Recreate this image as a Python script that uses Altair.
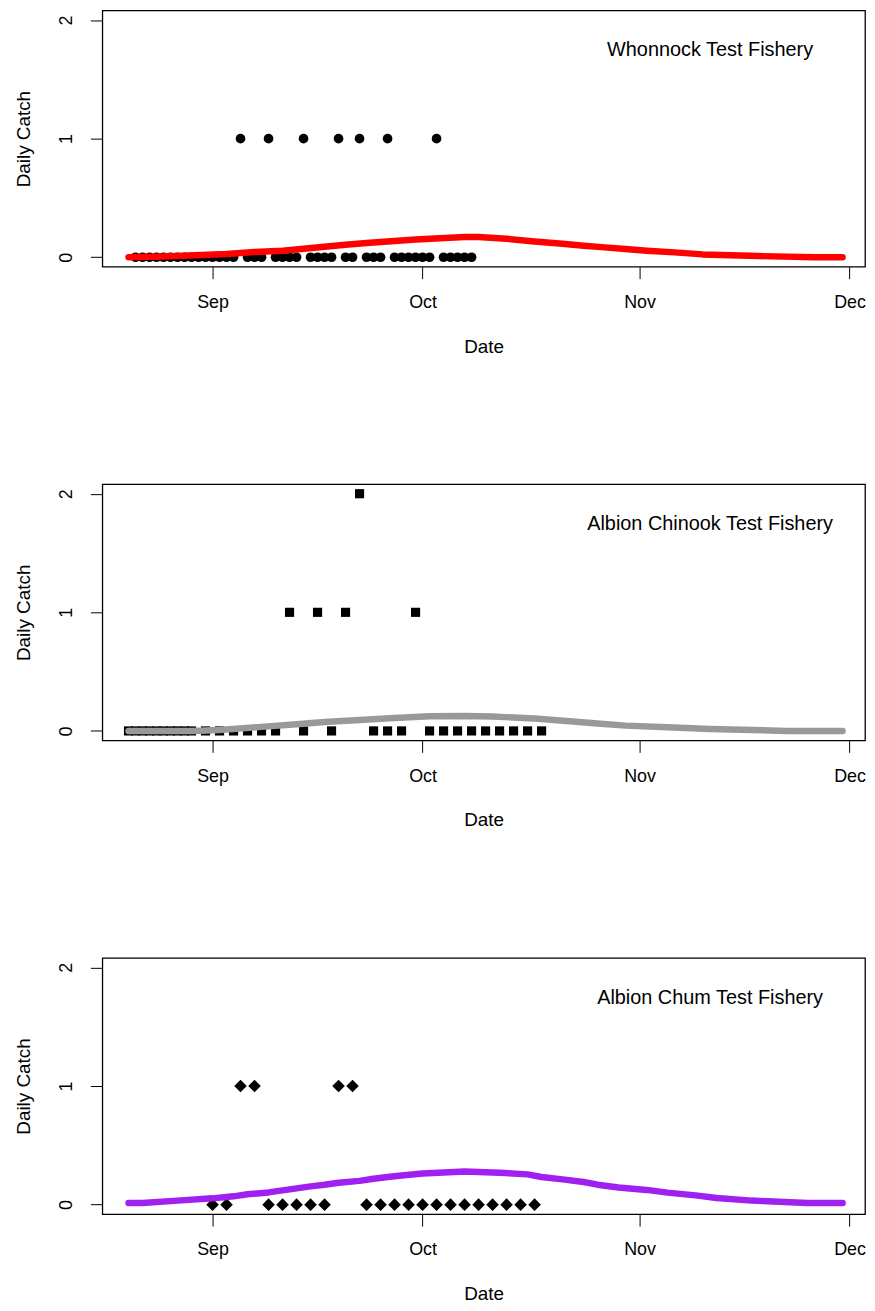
import altair as alt
import pandas as pd

YEAR = "2013"

# ---------------- Whonnock Test Fishery (daily) ----------------
wh_days = ["08-21", "08-22", "08-23", "08-24", "08-25", "08-26", "08-27", "08-28", "08-29", "08-30", "08-31",
           "09-01", "09-02", "09-03", "09-04", "09-05", "09-06", "09-07", "09-08", "09-09", "09-10",
           "09-11", "09-12", "09-13", "09-14", "09-15", "09-16", "09-17", "09-18", "09-19", "09-20",
           "09-21", "09-22", "09-23", "09-24", "09-25", "09-26", "09-27", "09-28", "09-29", "09-30",
           "10-01", "10-02", "10-03", "10-04", "10-05", "10-06", "10-07", "10-08"]
wh_catch = [0, 0, 0, 0, 0, 0, 0, 0, 0, 0, 0,
            0, 0, 0, 0, 1, 0, 0, 0, 1, 0,
            0, 0, 0, 1, 0, 0, 0, 0, 1, 0,
            0, 1, 0, 0, 0, 1, 0, 0, 0, 0,
            0, 0, 1, 0, 0, 0, 0, 0]
wh_curve_days = ["08-20", "08-25", "09-03", "09-07", "09-11", "09-14", "09-17", "09-20", "09-23", "09-26",
                 "09-30", "10-07", "10-09", "10-13", "10-17", "10-21", "10-24", "10-27", "10-30", "11-02",
                 "11-06", "11-10", "11-18", "11-26", "11-30"]
wh_curve_vals = [0.0, 0.007, 0.027, 0.044, 0.055, 0.072, 0.089, 0.105, 0.120, 0.133,
                 0.150, 0.170, 0.170, 0.156, 0.133, 0.114, 0.097, 0.083, 0.069, 0.055,
                 0.041, 0.024, 0.010, 0.0, 0.0]

# ---------------- Albion Chinook Test Fishery ----------------
ch_days = ["08-20", "08-21", "08-22", "08-23", "08-24", "08-25", "08-26", "08-27", "08-28", "08-29",
           "08-31", "09-02", "09-04", "09-06", "09-08", "09-10", "09-12", "09-14", "09-16", "09-18",
           "09-20", "09-22", "09-24", "09-26", "09-28", "09-30",
           "10-02", "10-04", "10-06", "10-08", "10-10", "10-12", "10-14", "10-16", "10-18"]
ch_catch = [0, 0, 0, 0, 0, 0, 0, 0, 0, 0,
            0, 0, 0, 0, 0, 0, 1, 0, 1, 0,
            1, 2, 0, 0, 0, 1,
            0, 0, 0, 0, 0, 0, 0, 0, 0]
ch_curve_days = ["08-20", "08-29", "09-02", "09-08", "09-13", "09-17", "09-22", "09-27", "10-02", "10-07",
                 "10-11", "10-17", "10-22", "10-26", "10-30", "11-05", "11-11", "11-22", "11-30"]
ch_curve_vals = [0.0, 0.0, 0.008, 0.034, 0.056, 0.076, 0.092, 0.109, 0.124, 0.126,
                 0.121, 0.105, 0.082, 0.062, 0.045, 0.031, 0.017, 0.0, 0.0]

# ---------------- Albion Chum Test Fishery ----------------
cm_days = ["09-01", "09-03", "09-05", "09-07", "09-09", "09-11", "09-13", "09-15", "09-17", "09-19",
           "09-21", "09-23", "09-25", "09-27", "09-29",
           "10-01", "10-03", "10-05", "10-07", "10-09", "10-11", "10-13", "10-15", "10-17"]
cm_catch = [0, 0, 1, 1, 0, 0, 0, 0, 0, 1,
            1, 0, 0, 0, 0,
            0, 0, 0, 0, 0, 0, 0, 0, 0]
cm_curve_days = ["08-20", "08-22", "08-27", "09-01", "09-04", "09-06", "09-09", "09-11", "09-13", "09-15",
                 "09-17", "09-19", "09-22", "09-24", "09-26", "09-28", "10-01", "10-07", "10-12", "10-16",
                 "10-18", "10-21", "10-24", "10-26", "10-29", "11-02", "11-05", "11-09", "11-12", "11-17",
                 "11-25", "11-30"]
cm_curve_vals = [0.014, 0.014, 0.034, 0.053, 0.070, 0.087, 0.103, 0.120, 0.137, 0.154,
                 0.168, 0.185, 0.200, 0.218, 0.233, 0.246, 0.263, 0.280, 0.269, 0.255,
                 0.233, 0.213, 0.191, 0.168, 0.145, 0.124, 0.101, 0.078, 0.056, 0.034,
                 0.014, 0.014]

month_ticks = [(9, 1), (10, 1), (11, 1), (12, 1)]
y_ticks = [0, 1, 2]

FONT = "Liberation Sans"


def to_df(days, vals):
    return pd.DataFrame({"date": [f"{YEAR}-{d}T00:00:00" for d in days], "value": vals})


x_enc = alt.X(
    "date:T",
    title="Date",
    scale=alt.Scale(domain=[alt.DateTime(year=2013, month=8, date=16, hours=6, minutes=14),
                            alt.DateTime(year=2013, month=12, date=3, hours=4, minutes=50)]),
    axis=alt.Axis(values=[alt.DateTime(year=2013, month=m, date=d) for m, d in month_ticks],
                  format="%b", labelAngle=0, tickSize=12, labelPadding=15,
                  labelBaseline="top", labelAlign="center",
                  minExtent=45, maxExtent=45, titlePadding=26, grid=False),
)
y_enc = alt.Y(
    "value:Q",
    title="Daily Catch",
    scale=alt.Scale(domain=[-0.08, 2.08], nice=False, zero=False),
    axis=alt.Axis(values=y_ticks, format="d", labelAngle=270, labelAlign="center",
                  labelBaseline="bottom", tickSize=12, labelPadding=15,
                  minExtent=42, maxExtent=42, titlePadding=27, grid=False),
)


def panel(days, catch, cdays, cvals, shape, size, color, label):
    pts = alt.Chart(to_df(days, catch)).mark_point(
        shape=shape, filled=True, size=size, color="black", opacity=1
    ).encode(x=x_enc, y=y_enc)
    line = alt.Chart(to_df(cdays, cvals)).mark_line(
        color=color, strokeWidth=6.5, strokeCap="round", strokeJoin="round"
    ).encode(x=x_enc, y=y_enc)
    txt = alt.Chart(pd.DataFrame({"t": [label]})).mark_text(
        font=FONT, fontSize=20, color="black", align="center", baseline="middle"
    ).encode(x=alt.value(612), y=alt.value(40), text="t:N")
    return alt.layer(pts, line, txt).properties(width=768, height=258)


p1 = panel(wh_days, wh_catch, wh_curve_days, wh_curve_vals, "circle", 95, "#FF0000", "Whonnock Test Fishery")
p2 = panel(ch_days, ch_catch, ch_curve_days, ch_curve_vals, "square", 85, "#999999", "Albion Chinook Test Fishery")
p3 = panel(cm_days, cm_catch, cm_curve_days, cm_curve_vals, "diamond", 160, "#A020F0", "Albion Chum Test Fishery")

chart = alt.vconcat(p1, p2, p3, spacing=127).properties(
    padding={"left": 6, "top": -3, "right": 0, "bottom": 0},
    background="white",
).configure_view(
    stroke="black", strokeWidth=1.3
).configure_axis(
    grid=False, domain=False, tickColor="black", tickWidth=1,
    labelFont=FONT, labelFontSize=18, labelColor="black",
    titleFont=FONT, titleFontSize=19, titleColor="black", titleFontWeight="normal",
)

chart.save("out.html", embed_options={"renderer": "svg", "actions": False})
